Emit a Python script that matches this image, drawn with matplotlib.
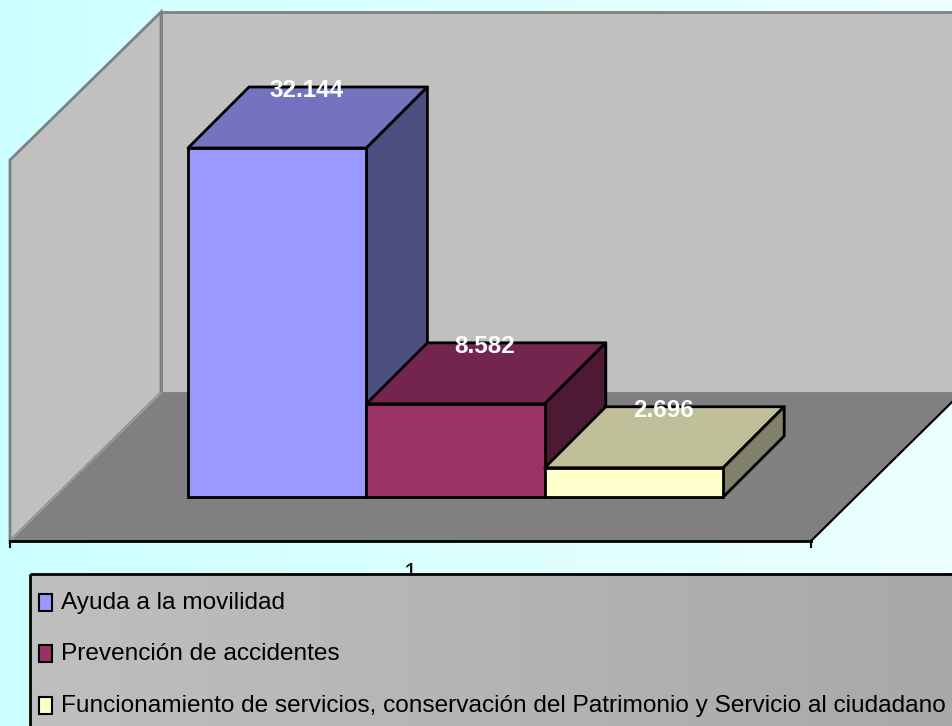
#3D looking column chart with a legend box, drawn on a single flat axes

import numpy as np
import matplotlib
matplotlib.use("Agg")
import matplotlib.pyplot as plt
from matplotlib.patches import Polygon, Rectangle

categories = ["Ayuda a la movilidad",
              "Prevención de accidentes",
              "Funcionamiento de servicios, conservación del Patrimonio y Servicio al ciudadano"]
values = [32144, 8582, 2696]
value_labels = ["32.144", "8.582", "2.696"]
tick_label = "1"

front_colors = ["#9999FF", "#993366", "#FFFFCC"]
top_colors = ["#7373BF", "#73264D", "#BFBF99"]
side_colors = ["#4D4D80", "#4D1A33", "#80806B"]

W, H = 952, 726
BAR_LEFT = 188.0
BAR_WIDTH = 178.4
BASE = 497.0
PX_PER_VALUE = 349.0 / 32144
DEPTH = 61.0

plt.rcParams["font.family"] = ["Liberation Sans", "DejaVu Sans"]

fig = plt.figure(figsize=(W / 100, H / 100), dpi=100)
ax = fig.add_axes([0, 0, 1, 1])

# x is the bar slot, y is the value, so the bars go through the axes scales
ax.set_xlim(-BAR_LEFT / BAR_WIDTH, (W - BAR_LEFT) / BAR_WIDTH)
ax.set_ylim(-(H - BASE) / PX_PER_VALUE, BASE / PX_PER_VALUE)
ax.set_axis_off()


def px(x, y):
    return ((x - BAR_LEFT) / BAR_WIDTH, (BASE - y) / PX_PER_VALUE)


def add_poly(points, **kw):
    ax.add_patch(Polygon([px(x, y) for x, y in points], closed=True, **kw))


def gradient(x0, y0, x1, y1, left, right, zorder):
    a = px(x0, y1)
    b = px(x1, y0)
    row = np.linspace(left, right, 256).reshape(1, -1, 3)
    ax.imshow(row, extent=[a[0], b[0], a[1], b[1]], aspect="auto", zorder=zorder,
              interpolation="bilinear")


# background
gradient(0, 0, W, H, (0.80, 1.0, 1.0), (0.93, 1.0, 1.0), 0)

# walls and floor
add_poly([(161, 12), (962, 12), (962, 393), (161, 393)], fc="#C0C0C0", ec="#808080", lw=2, zorder=1)
add_poly([(10, 160), (161, 12), (161, 393), (10, 541)], fc="#C0C0C0", ec="#808080", lw=2, zorder=1)
add_poly([(10, 541), (161, 393), (962, 393), (811, 541)], fc="#808080", ec="none", zorder=2)
ax.plot(*zip(px(10, 541), px(161, 393)), color="#A0A0A0", lw=1, zorder=2)
ax.plot(*zip(px(811, 541), px(952, 402)), color="black", lw=1.5, zorder=3)
ax.plot(*zip(px(10, 541), px(811, 541)), color="black", lw=2, zorder=3)
ax.plot(*zip(px(10, 541), px(10, 547)), color="black", lw=1.5, zorder=3)
ax.plot(*zip(px(811, 541), px(811, 547)), color="black", lw=1.5, zorder=3)

# bars, left to right so every bar sits over the side of the one before it
dx = DEPTH / BAR_WIDTH
dy = DEPTH / PX_PER_VALUE
for i, v in enumerate(values):
    z = 10 + i * 3
    ax.bar(i, v, width=1, align="edge", color=front_colors[i], edgecolor="black", lw=2, zorder=z + 2)
    top = [(i, v), (i + 1, v), (i + 1 + dx, v + dy), (i + dx, v + dy)]
    side = [(i + 1, 0), (i + 1 + dx, dy), (i + 1 + dx, v + dy), (i + 1, v)]
    ax.add_patch(Polygon(top, closed=True, fc=top_colors[i], ec="black", lw=2, joinstyle="round", zorder=z))
    ax.add_patch(Polygon(side, closed=True, fc=side_colors[i], ec="black", lw=2, joinstyle="round", zorder=z))

# value labels sit on the back edge of each top face
for i, v in enumerate(values):
    ax.text(i + 0.5 + dx / 2 - 1.5 / BAR_WIDTH, v + dy - 4 / PX_PER_VALUE, value_labels[i], color="white",
            fontweight="bold", fontsize=17.5, ha="center", va="center", zorder=30)

# tick label, the legend box cuts it off
tx, ty = px(410, 574)
ax.text(tx, ty, tick_label, fontsize=17.6, ha="center", va="center", zorder=4)

# legend box
gradient(30, 574, W + 10, H + 10, (0.75, 0.75, 0.75), (0.66, 0.66, 0.66), 40)
ax.set_xlim(-BAR_LEFT / BAR_WIDTH, (W - BAR_LEFT) / BAR_WIDTH)
ax.set_ylim(-(H - BASE) / PX_PER_VALUE, BASE / PX_PER_VALUE)
add_poly([(30, 574), (W + 10, 574), (W + 10, H + 10), (30, H + 10)], fc="none", ec="black", lw=2, zorder=41)

legend_rows = [602, 653, 705]
for i, name in enumerate(categories):
    x0, y0 = px(39, legend_rows[i] + 9)
    x1, y1 = px(52, legend_rows[i] - 8)
    ax.add_patch(Rectangle((x0, y0), x1 - x0, y1 - y0, fc=front_colors[i], ec="black", lw=1.5, zorder=42))
    lx, ly = px(61, legend_rows[i] + 1)
    ax.text(lx, ly, name, fontsize=17.6, ha="left", va="center", color="black", zorder=42)

fig.savefig("out.png", dpi=100)
